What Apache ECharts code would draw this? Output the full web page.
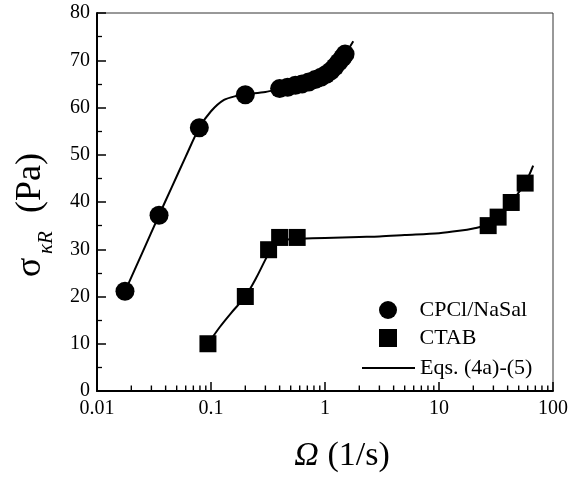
<!DOCTYPE html>
<html>
<head>
<meta charset="utf-8">
<script src="https://cdn.jsdelivr.net/npm/echarts@6/dist/echarts.min.js"></script>
<style>
html,body{margin:0;padding:0;background:#fff;}
#chart{width:571px;height:478px;}
</style>
</head>
<body>
<div id="chart"></div>
<script>
// ---- data ----
var cpclOmega = [0.0176, 0.035, 0.079, 0.20, 0.40, 0.47, 0.55, 0.63, 0.72, 0.82, 0.92, 1.02, 1.12, 1.22, 1.32, 1.42, 1.50];
var cpclSigma = [21.1, 37.2, 55.7, 62.7, 64.0, 64.3, 64.7, 65.0, 65.4, 65.9, 66.4, 67.0, 67.7, 68.6, 69.6, 70.5, 71.3];

var ctabOmega = [0.094, 0.20, 0.32, 0.40, 0.57, 27, 33, 43, 57];
var ctabSigma = [10.0, 20.0, 29.9, 32.5, 32.5, 35.0, 36.8, 39.9, 44.0];

var cpclFitOmega = [0.0176, 0.025, 0.035, 0.045, 0.06, 0.079, 0.10, 0.13, 0.17, 0.20, 0.30, 0.40, 0.55, 0.72, 0.92, 1.12, 1.32, 1.50, 1.65, 1.77];
var cpclFitSigma = [21.1, 29.3, 37.2, 43.0, 49.6, 55.7, 59.2, 61.6, 62.5, 62.8, 63.3, 63.9, 64.6, 65.4, 66.4, 67.7, 69.6, 71.3, 72.8, 74.0];

var ctabFitOmega = [0.094, 0.12, 0.15, 0.20, 0.25, 0.30, 0.35, 0.40, 0.50, 0.60, 1, 2, 3, 5, 10, 15, 20, 27, 33, 43, 57, 67];
var ctabFitSigma = [10.0, 13.6, 16.5, 20.0, 24.0, 27.8, 30.8, 31.9, 32.1, 32.2, 32.4, 32.6, 32.7, 33.0, 33.4, 33.9, 34.4, 35.2, 36.7, 39.9, 44.0, 47.7];

var xTickLabels = ['0.01', '0.1', '1', '10', '100'];
var xMinorTicks = [0.02,0.03,0.04,0.05,0.06,0.07,0.08,0.09,0.2,0.3,0.4,0.5,0.6,0.7,0.8,0.9,2,3,4,5,6,7,8,9,20,30,40,50,60,70,80,90];
var yTicks = [0, 10, 20, 30, 40, 50, 60, 70, 80];

var seriesNames = ['CPCl/NaSal', 'CTAB', 'Eqs. (4a)-(5)'];
// --------------------------------------

function pairs(xs, ys) { return xs.map(function (x, i) { return [x, ys[i]]; }); }

var FONT = '"Liberation Serif","Times New Roman",serif';
var chart = echarts.init(document.getElementById('chart'), null, {renderer: 'canvas'});

var legendBase = {
  orient: 'vertical', padding: 0, itemWidth: 53, itemHeight: 18,
  textStyle: {fontFamily: FONT, fontSize: 22, color: '#000', lineHeight: 22},
  selectedMode: false
};

var option = {
  backgroundColor: '#fff',
  animation: false,
  grid: {left: 97, right: 16, top: 13, bottom: 80, show: true, borderColor: '#333', borderWidth: 1, backgroundColor: 'transparent'},
  legend: [
    Object.assign({}, legendBase, {left: 379, top: 299, data: [{name: seriesNames[0], icon: 'circle'}]}),
    Object.assign({}, legendBase, {left: 379, top: 327, data: [{name: seriesNames[1], icon: 'path://M0,0H10V10H0Z'}]}),
    Object.assign({}, legendBase, {left: 362, top: 357, data: [{name: seriesNames[2], icon: 'path://M0,0H53V2H0Z'}]})
  ],
  xAxis: {
    type: 'log', logBase: 10, min: 0.01, max: 100, splitNumber: 4,
    position: 'bottom',
    axisLine: {show: true, onZero: false, lineStyle: {color: '#000', width: 2}},
    axisTick: {show: true, inside: true, length: 9, lineStyle: {color: '#000', width: 1.5}},
    minorTick: {show: false},
    splitLine: {show: false},
    axisLabel: {
      margin: 8, color: '#000', fontFamily: FONT, fontSize: 20,
      formatter: function (v, i) { return xTickLabels[i]; }
    },
    name: '{i|\u03A9} (1/s)',
    nameLocation: 'middle', nameGap: 48,
    nameTextStyle: {fontFamily: FONT, fontSize: 34, color: '#000', padding: [0,0,0,34],
      rich: {i: {fontFamily: FONT, fontSize: 34, fontStyle: 'italic', color: '#000'}}}
  },
  yAxis: {
    type: 'value', min: 0, max: 80, interval: 10,
    axisLine: {show: true, onZero: false, lineStyle: {color: '#000', width: 2}},
    axisTick: {show: true, inside: true, length: 9, lineStyle: {color: '#000', width: 1.5}},
    minorTick: {show: true, splitNumber: 2, length: 5, lineStyle: {color: '#000', width: 1.3}},
    splitLine: {show: false},
    axisLabel: {margin: 7, color: '#000', fontFamily: FONT, fontSize: 20,
      formatter: function (v) { return yTicks.indexOf(v) >= 0 ? String(v) : ''; }}
  },
  graphic: [{
    type: 'group', x: 43, y: 277, rotation: Math.PI / 2,
    children: [
      {type: 'text', style: {text: '\u03C3', x: 0, y: -12, font: '36px ' + FONT, fill: '#000', textAlign: 'left', textVerticalAlign: 'middle', align: 'left', verticalAlign: 'middle'}},
      {type: 'text', style: {text: '\u03BAR', x: 23, y: 3, font: 'italic 21px ' + FONT, fill: '#000', textAlign: 'left', textVerticalAlign: 'middle', align: 'left', verticalAlign: 'middle'}},
      {type: 'text', style: {text: '(Pa)', x: 64, y: -12, font: '36px ' + FONT, fill: '#000', textAlign: 'left', textVerticalAlign: 'middle', align: 'left', verticalAlign: 'middle'}}
    ]
  }],
  series: [
    {name: seriesNames[2], type: 'line', data: pairs(cpclFitOmega, cpclFitSigma), smooth: 0.3,
      showSymbol: false, symbol: 'none', lineStyle: {color: '#000', width: 2}, itemStyle: {color: '#000'}, z: 2},
    {name: seriesNames[2], type: 'line', data: pairs(ctabFitOmega, ctabFitSigma), smooth: 0.3,
      showSymbol: false, symbol: 'none', lineStyle: {color: '#000', width: 2}, itemStyle: {color: '#000'}, z: 2},
    {name: seriesNames[0], type: 'scatter', data: pairs(cpclOmega, cpclSigma), symbol: 'circle', symbolSize: 19,
      itemStyle: {color: '#000', opacity: 1}, z: 3},
    {name: seriesNames[1], type: 'scatter', data: pairs(ctabOmega, ctabSigma), symbol: 'rect', symbolSize: 17,
      itemStyle: {color: '#000', opacity: 1}, z: 3},
    {name: 'xMinorTicks', type: 'scatter', silent: true, clip: false, z: 6,
      data: xMinorTicks.map(function (v) { return [v, 0]; }),
      symbol: 'rect', symbolSize: [1.4, 5], symbolOffset: [0, -3],
      itemStyle: {color: '#000', opacity: 1}}
  ]
};
chart.setOption(option);
</script>
</body>
</html>
